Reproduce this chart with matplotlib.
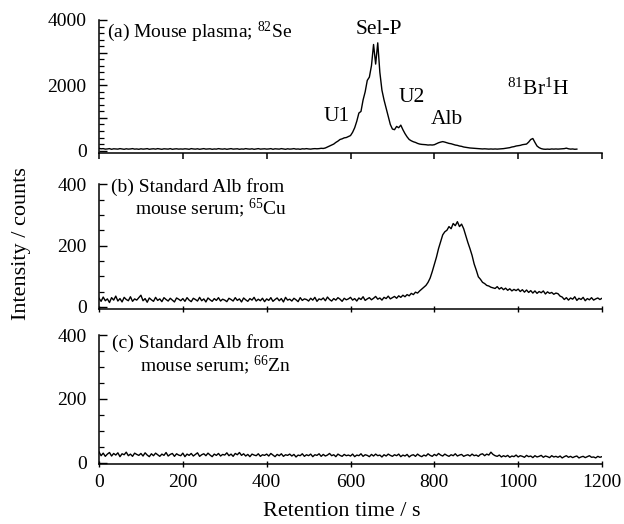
import numpy as np
import matplotlib
matplotlib.use("Agg")
import matplotlib.pyplot as plt
from matplotlib.ticker import MultipleLocator, FuncFormatter

plt.rcParams['font.family'] = ['Liberation Serif', 'DejaVu Serif']
plt.rcParams['mathtext.fontset'] = 'custom'
plt.rcParams['mathtext.rm'] = 'Liberation Serif'

# ---------------- data ----------------
time_step = 5  # seconds between samples

# (a) Mouse plasma; 82Se  (t = 0 ... 1140 s)
se82 = [
    70, 55, 60, 45, 50, 60, 40, 55, 50, 45, 60, 50, 40, 55, 45, 50, 60, 45, 50, 40,
    55, 45, 50, 60, 40, 50, 55, 45, 60, 50, 40, 55, 50, 45, 60, 40, 50, 55, 45, 50,
    45, 55, 50, 40, 60, 50, 45, 55, 40, 50, 60, 45, 50, 55, 40, 50, 45, 60, 50, 45,
    55, 40, 50, 60, 45, 50, 55, 40, 50, 45, 60, 50, 45, 55, 40, 50, 60, 45, 50, 55,
    45, 50, 60, 40, 55, 50, 45, 60, 50, 40, 55, 45, 50, 60, 45, 50, 40, 55, 50, 60,
    50, 45, 55, 60, 55, 60, 70, 65, 80, 110, 140, 170, 200, 250, 290, 340, 360, 390, 400, 430,
    460, 560, 700, 900, 1150, 1200, 1550, 1800, 2150, 2250, 2600, 3250, 2650, 3300, 2400, 1850, 1550, 1300, 1050, 800,
    660, 640, 740, 700, 780, 640, 520, 420, 340, 300, 270, 250, 220, 200, 190, 185, 180, 170, 175, 170,
    180, 210, 240, 260, 275, 260, 240, 220, 210, 190, 170, 160, 140, 130, 110, 100, 90, 80, 75, 70,
    65, 60, 55, 50, 55, 50, 45, 50, 45, 50, 45, 50, 55, 60, 70, 80, 90, 110, 120, 140,
    150, 160, 180, 190, 200, 260, 340, 370, 250, 140, 90, 60, 45, 40, 45, 40, 50, 45, 50, 45,
    50, 55, 60, 75, 55, 45, 50, 40, 45,
]

# (b) Standard Alb from mouse serum; 65Cu  (t = 0 ... 1200 s)
cu65 = [
    28, 18, 32, 20, 26, 14, 30, 22, 35, 19, 27, 16, 31, 24, 20, 33, 18, 26, 22, 30,
    38, 20, 27, 15, 29, 23, 18, 31, 21, 26, 17, 30, 24, 19, 28, 22, 16, 29, 25, 20,
    27, 18, 30, 22, 17, 28, 24, 19, 31, 20, 26, 16, 29, 23, 18, 27, 21, 30, 19, 25,
    22, 17, 28, 24, 19, 30, 21, 26, 16, 29, 23, 18, 27, 22, 31, 19, 25, 20, 28, 17,
    26, 21, 30, 18, 24, 29, 20, 27, 16, 31, 22, 25, 19, 28, 23, 17, 30, 21, 26, 24,
    19, 28, 22, 31, 18, 26, 23, 29, 20, 32, 24, 19, 27, 22, 30, 25, 18, 28, 23, 26,
    31, 22, 27, 19, 29, 24, 33, 21, 26, 30, 23, 28, 34, 25, 29, 22, 31, 27, 35, 26,
    30, 34, 28, 36, 31, 38, 33, 40, 36, 44, 40, 48, 45, 52, 58, 64, 70, 80, 94, 115,
    138, 162, 190, 212, 235, 245, 250, 262, 255, 272, 265, 278, 262, 270, 255, 232, 210, 190, 168, 140,
    120, 98, 90, 80, 76, 70, 68, 64, 62, 60, 66, 58, 63, 56, 61, 54, 59, 52, 57, 53,
    58, 50, 56, 48, 55, 47, 53, 45, 52, 44, 50, 46, 52, 42, 49, 44, 47, 41, 45, 43,
    35, 32, 24, 30, 22, 29, 25, 33, 21, 28, 24, 31, 20, 27, 23, 30, 22, 26, 29, 24,
    28,
]

# (c) Standard Alb from mouse serum; 66Zn  (t = 0 ... 1200 s)
zn66 = [
    34, 22, 30, 20, 27, 32, 21, 29, 24, 31, 19, 28, 25, 33, 22, 27, 20, 30, 26, 23,
    29, 21, 31, 24, 19, 28, 22, 30, 25, 20, 27, 23, 32, 21, 26, 29, 20, 28, 24, 22,
    30, 19, 27, 23, 29, 21, 26, 31, 20, 25, 28, 22, 30, 24, 19, 27, 23, 29, 21, 26,
    24, 31, 22, 27, 20, 29, 25, 32, 23, 28, 21, 26, 19, 27, 24, 22, 28, 20, 25, 23,
    27, 21, 29, 24, 19, 26, 22, 28, 20, 25, 23, 27, 21, 26, 18, 24, 22, 28, 20, 25,
    22, 27, 19, 25, 23, 28, 20, 26, 21, 24, 29, 22, 25, 19, 27, 23, 20, 26, 22, 24,
    21, 27, 19, 24, 22, 28, 20, 25, 23, 19, 26, 21, 27, 22, 24, 18, 25, 21, 27, 23,
    20, 25, 22, 27, 19, 24, 21, 26, 18, 23, 25, 20, 27, 22, 19, 24, 21, 28, 23, 20,
    26, 22, 29, 24, 21, 27, 23, 20, 25, 22, 28, 21, 24, 26, 20, 23, 25, 21, 27, 22,
    24, 20, 26, 28, 22, 27, 24, 33, 26, 22, 20, 24, 18, 22, 19, 23, 17, 21, 19, 24,
    18, 22, 20, 17, 23, 19, 21, 16, 22, 18, 20, 23, 17, 21, 19, 16, 22, 18, 20, 17,
    21, 15, 19, 22, 17, 20, 16, 19, 21, 15, 18, 20, 16, 19, 22, 17, 18, 15, 20, 17,
    19,
]

# panel captions: (first line, second line, second line start time, first/second line levels)
caption_line1 = ["(a) Mouse plasma; $\\mathregular{^{82}}$Se",
                 "(b) Standard Alb from",
                 "(c) Standard Alb from"]
caption_line2 = [None,
                 "mouse serum; $\\mathregular{^{65}}$Cu",
                 "mouse serum; $\\mathregular{^{66}}$Zn"]
caption_x1 = [19, 29, 30]
caption_x2 = [None, 86, 98]
caption_y1 = [3632, 392, 376]
caption_y2 = [None, 323, 304]

peak_names = ["U1", "Sel-P", "U2", "Alb", "$\\mathregular{^{81}}$Br$\\mathregular{^{1}}$H"]
peak_times = [567, 668, 746, 829, 1048]
peak_levels = [1030, 3720, 1640, 940, 1890]

x_ticks = [0, 200, 400, 600, 800, 1000, 1200]

# ---------------- figure ----------------
W, H = 624, 524
fig = plt.figure(figsize=(W / 100, H / 100), dpi=100)

def ax_rect(top_px, bottom_px, left_px=99, right_px=602):
    return [left_px / W, 1 - bottom_px / H, (right_px - left_px) / W, (bottom_px - top_px) / H]

axa = fig.add_axes(ax_rect(20, 153.2))
axb = fig.add_axes(ax_rect(184.3, 309.3))
axc = fig.add_axes(ax_rect(335, 464))

series = [se82, cu65, zn66]
ylims = [(-80, 4000), (-8, 400), (-4, 400)]
fs_tick = 14
fs_cap = 14
fs_peak = 15.5
fs_label = 16

for i, (ax, y) in enumerate(zip([axa, axb, axc], series)):
    t = np.arange(len(y)) * time_step
    ax.plot(t, y, color='black', lw=1.0)
    ax.set_xlim(0, 1200)
    ax.set_ylim(*ylims[i])
    for s in ['top', 'right']:
        ax.spines[s].set_visible(False)
    for s in ['left', 'bottom']:
        ax.spines[s].set_linewidth(1.1)
    ax.set_xticks(x_ticks)
    ax.tick_params(axis='y', which='major', direction='in', length=6, width=1, labelsize=fs_tick, pad=9)
    ax.tick_params(axis='y', which='minor', direction='in', length=3.5, width=0.9)
    if i == 0:
        ax.tick_params(axis='x', which='major', direction='out', length=4, width=1.1, labelbottom=False)
        ax.yaxis.set_major_locator(MultipleLocator(1000))
        ax.yaxis.set_minor_locator(MultipleLocator(200))
        ax.yaxis.set_major_formatter(FuncFormatter(lambda v, p: f"{int(v)}" if int(v) % 2000 == 0 else ""))
    else:
        ax.tick_params(axis='x', which='major', direction='inout', length=5, width=1.0,
                       labelsize=fs_tick, pad=5)
        ax.yaxis.set_major_locator(MultipleLocator(200))
        ax.yaxis.set_minor_locator(MultipleLocator(50))
        if i == 1:
            ax.tick_params(axis='x', labelbottom=False)
    ax.text(caption_x1[i], caption_y1[i], caption_line1[i], ha='left', va='center', fontsize=fs_cap)
    if caption_line2[i] is not None:
        ax.text(caption_x2[i], caption_y2[i], caption_line2[i], ha='left', va='center', fontsize=fs_cap)

for name, xt, yl in zip(peak_names, peak_times, peak_levels):
    axa.text(xt, yl, name, ha='center', va='center', fontsize=fs_peak)

fig.text(342 / W, 1 - 512 / H, "Retention time / s", ha='center', va='center', fontsize=fs_label)
fig.text(22 / W, 1 - 244 / H, "Intensity / counts", rotation=90, ha='center', va='center', fontsize=fs_label)

fig.savefig("out.png", dpi=100)
